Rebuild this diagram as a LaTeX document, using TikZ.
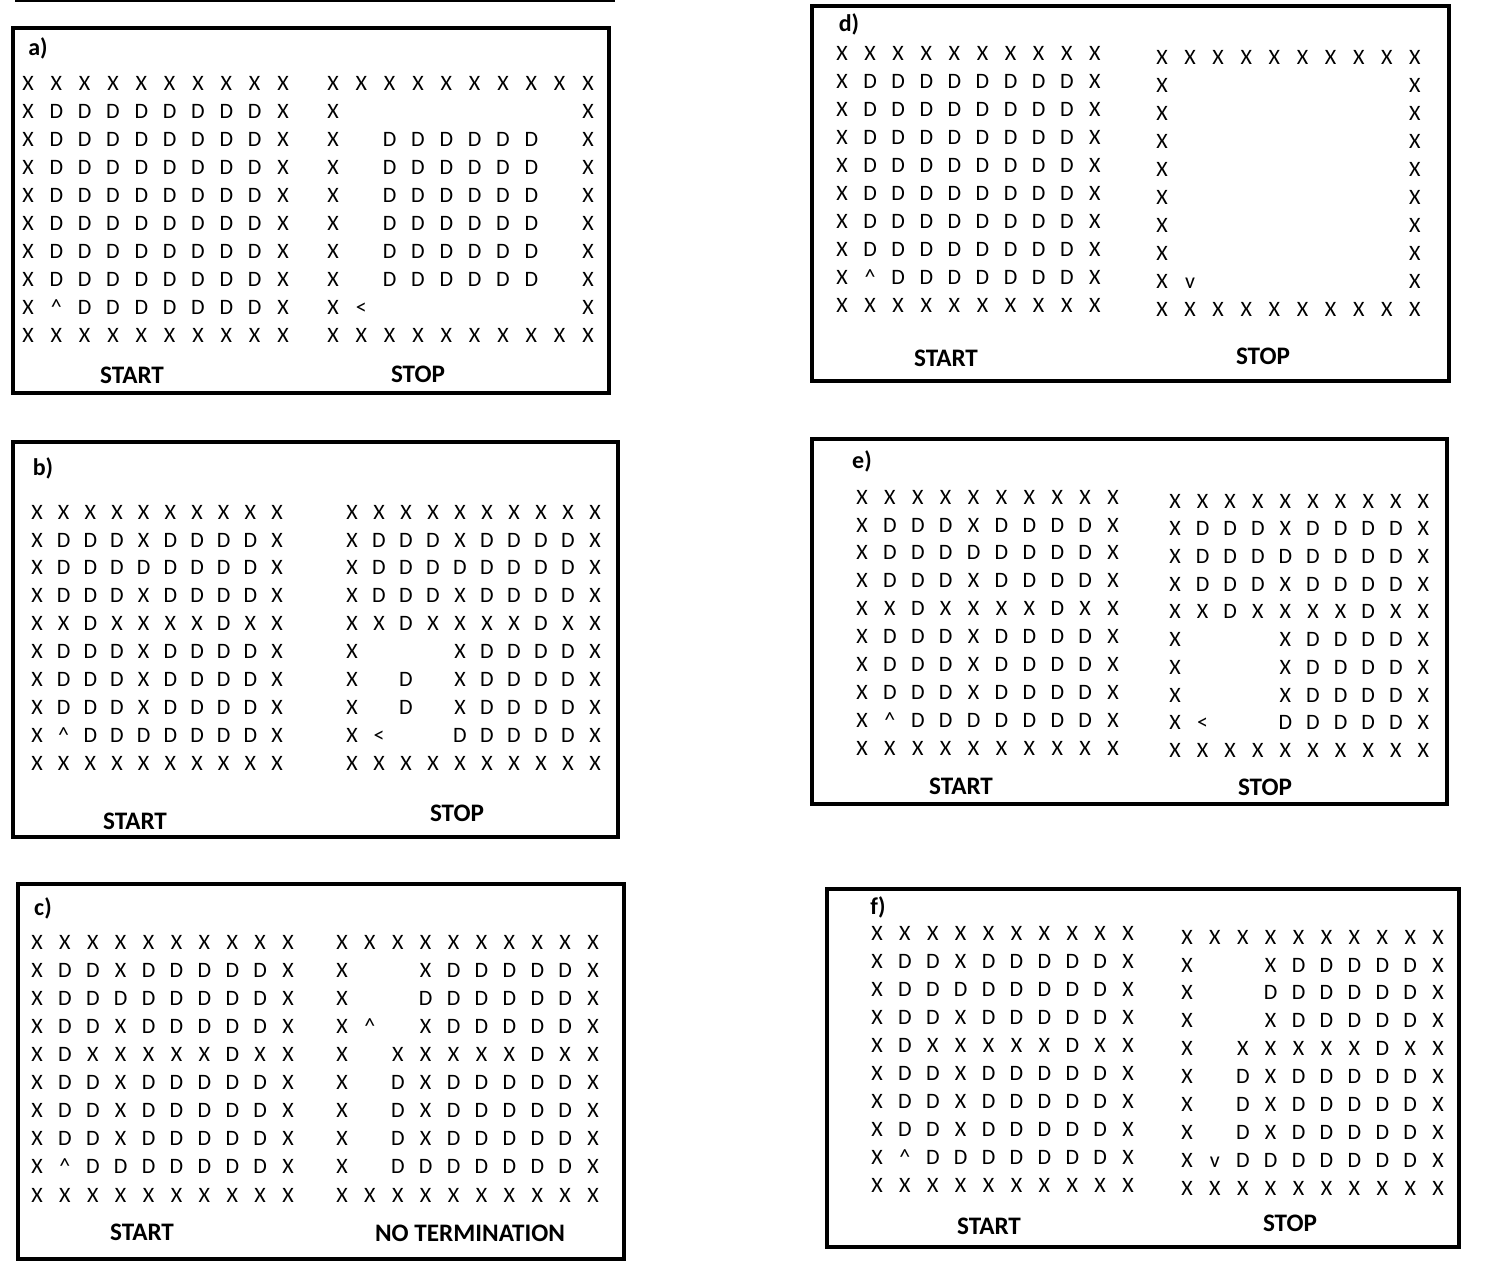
\documentclass[tikz,border=0pt]{standalone}
\usepackage{fontspec}
\setmainfont{Carlito}
\newcount\gridcol
\def\glyphX{X}
\def\glyphD{D}
\def\glyphU{\textasciicircum}
\def\glyphL{<}
\def\glyphV{v}
\def\placecell#1{%
  \ifx#1-\else
    \pgfmathsetmacro\cx{\gx+\the\gridcol*\gdx}%
    \pgfmathsetmacro\cy{\gy+\ri*\gdy}%
    \edef\cellname{\gname-\ri-\the\gridcol}%
    \node[cell] (\cellname) at (\cx,\cy) {\csname glyph#1\endcsname};%
  \fi}
\def\gridchars#1{%
  \ifx#1\relax
  \else
    \placecell#1%
    \advance\gridcol by 1
    \expandafter\gridchars
  \fi}
\newcommand\drawgrid[6]{%
  \def\gname{#1}\def\gx{#2}\def\gy{#3}\def\gdx{#4}\def\gdy{#5}%
  \foreach \row [count=\ri from 0] in {#6}{%
    \gridcol=0
    \expandafter\gridchars\row\relax
  }%
}
\tikzset{
  cell/.style={inner sep=0pt, text height=7.1pt, text depth=0pt, font=\fontsize{11}{13}\selectfont},
  lbl/.style={inner sep=0pt, font=\bfseries\fontsize{12.6}{14}\selectfont},
  tag/.style={inner sep=0pt, font=\bfseries\fontsize{12}{14}\selectfont},
  frame/.style={draw=black, line width=1.6pt},
}
\begin{document}
\begin{tikzpicture}[x=0.5pt,y=-0.5pt]
\useasboundingbox (0,0) rectangle (1496,1280);
% top rule
\coordinate (ruleL) at (15,1);
\coordinate (ruleR) at (615,1);
\draw[line width=0.7pt] (ruleL) -- (ruleR);
% frames
\draw[frame] (13,28) rectangle (609,393);
\draw[frame] (13,442) rectangle (618,837);
\draw[frame] (18,884) rectangle (624,1259);
\draw[frame] (812,6) rectangle (1449,381);
\draw[frame] (812,439) rectangle (1447,804);
\draw[frame] (827,889) rectangle (1459,1247);
% tags
\node[tag] (ta) at (38,48) {a)};
\node[tag] (tb) at (43,468) {b)};
\node[tag] (tc) at (43,908) {c)};
\node[tag] (td) at (849,24) {d)};
\node[tag] (te) at (862,461) {e)};
\node[tag] (tf) at (878,907) {f)};
% labels
\node[lbl] (la1) at (132,375) {START};
\node[lbl] (la2) at (418,374) {STOP};
\node[lbl] (lb1) at (135,821) {START};
\node[lbl] (lb2) at (457,813) {STOP};
\node[lbl] (lc1) at (142,1232) {START};
\node[lbl] (lc2) at (470,1233) {NO TERMINATION};
\node[lbl] (ld1) at (946,358) {START};
\node[lbl] (ld2) at (1263,356) {STOP};
\node[lbl] (le1) at (961,786) {START};
\node[lbl] (le2) at (1265,787) {STOP};
\node[lbl] (lf1) at (989,1226) {START};
\node[lbl] (lf2) at (1290,1223) {STOP};
% a
\drawgrid{as}{28}{83}{28.33}{28}{XXXXXXXXXX,XDDDDDDDDX,XDDDDDDDDX,XDDDDDDDDX,XDDDDDDDDX,XDDDDDDDDX,XDDDDDDDDX,XDDDDDDDDX,XUDDDDDDDX,XXXXXXXXXX}
\drawgrid{ap}{333}{83}{28.33}{28}{XXXXXXXXXX,X--------X,X-DDDDDD-X,X-DDDDDD-X,X-DDDDDD-X,X-DDDDDD-X,X-DDDDDD-X,X-DDDDDD-X,XL-------X,XXXXXXXXXX}
% b
\drawgrid{bs}{37}{512}{26.67}{27.9}{XXXXXXXXXX,XDDDXDDDDX,XDDDDDDDDX,XDDDXDDDDX,XXDXXXXDXX,XDDDXDDDDX,XDDDXDDDDX,XDDDXDDDDX,XUDDDDDDDX,XXXXXXXXXX}
\drawgrid{bp}{352}{512}{27}{27.9}{XXXXXXXXXX,XDDDXDDDDX,XDDDDDDDDX,XDDDXDDDDX,XXDXXXXDXX,X---XDDDDX,X-D-XDDDDX,X-D-XDDDDX,XL--DDDDDX,XXXXXXXXXX}
% c
\drawgrid{cs}{37}{942}{27.9}{28.1}{XXXXXXXXXX,XDDXDDDDDX,XDDDDDDDDX,XDDXDDDDDX,XDXXXXXDXX,XDDXDDDDDX,XDDXDDDDDX,XDDXDDDDDX,XUDDDDDDDX,XXXXXXXXXX}
\drawgrid{cp}{342}{942}{27.9}{28.1}{XXXXXXXXXX,X--XDDDDDX,X--DDDDDDX,XU-XDDDDDX,X-XXXXXDXX,X-DXDDDDDX,X-DXDDDDDX,X-DXDDDDDX,X-DDDDDDDX,XXXXXXXXXX}
% d
\drawgrid{ds}{842}{53}{28.1}{28}{XXXXXXXXXX,XDDDDDDDDX,XDDDDDDDDX,XDDDDDDDDX,XDDDDDDDDX,XDDDDDDDDX,XDDDDDDDDX,XDDDDDDDDX,XUDDDDDDDX,XXXXXXXXXX}
\drawgrid{dp}{1162}{57}{28.1}{28}{XXXXXXXXXX,X--------X,X--------X,X--------X,X--------X,X--------X,X--------X,X--------X,XV-------X,XXXXXXXXXX}
% e
\drawgrid{es}{862}{497}{27.9}{27.9}{XXXXXXXXXX,XDDDXDDDDX,XDDDDDDDDX,XDDDXDDDDX,XXDXXXXDXX,XDDDXDDDDX,XDDDXDDDDX,XDDDXDDDDX,XUDDDDDDDX,XXXXXXXXXX}
\drawgrid{ep}{1175}{501}{27.6}{27.7}{XXXXXXXXXX,XDDDXDDDDX,XDDDDDDDDX,XDDDXDDDDX,XXDXXXXDXX,X---XDDDDX,X---XDDDDX,X---XDDDDX,XL--DDDDDX,XXXXXXXXXX}
% f
\drawgrid{fs}{877}{933}{27.9}{28}{XXXXXXXXXX,XDDXDDDDDX,XDDDDDDDDX,XDDXDDDDDX,XDXXXXXDXX,XDDXDDDDDX,XDDXDDDDDX,XDDXDDDDDX,XUDDDDDDDX,XXXXXXXXXX}
\drawgrid{fp}{1187}{937}{27.9}{27.9}{XXXXXXXXXX,X--XDDDDDX,X--DDDDDDX,X--XDDDDDX,X-XXXXXDXX,X-DXDDDDDX,X-DXDDDDDX,X-DXDDDDDX,XVDDDDDDDX,XXXXXXXXXX}
\end{tikzpicture}
\end{document}
